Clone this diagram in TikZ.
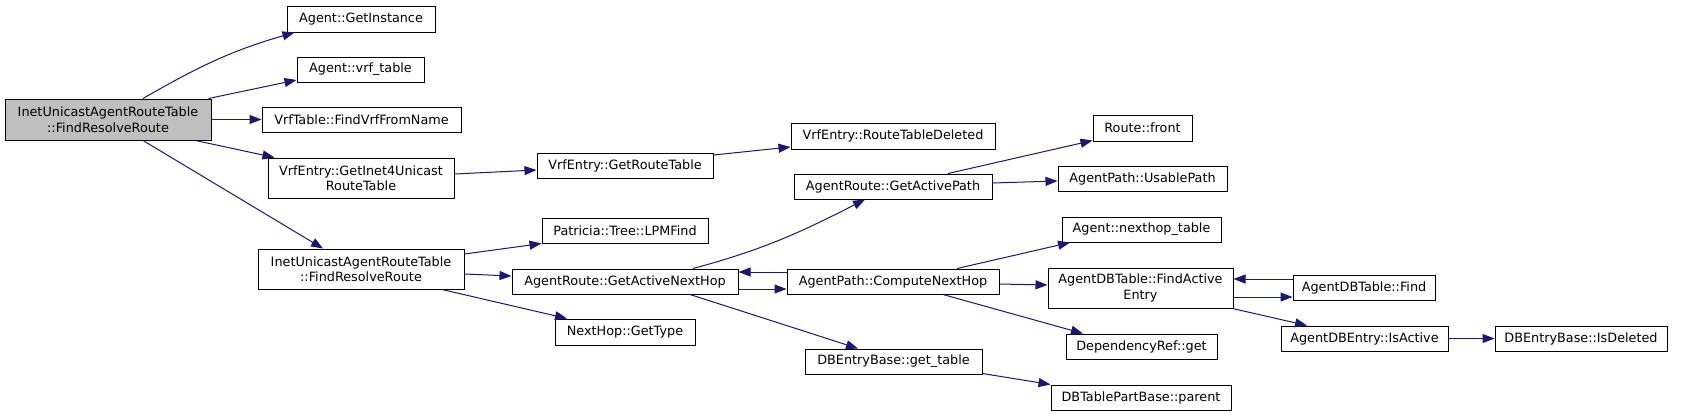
\documentclass[tikz,border=0pt]{standalone}
\usepackage{fontspec}
\setmainfont{DejaVu Sans}
\usetikzlibrary{arrows.meta}
\definecolor{edgec}{RGB}{25,25,112}
\definecolor{rootfill}{RGB}{191,191,191}
\begin{document}
\begin{tikzpicture}[x=1pt,y=-1pt,
  fn/.style={draw=black, line width=1pt, fill=white, inner sep=0pt, align=center,
    font=\fontsize{12.8}{15.5}\selectfont},
  sz/.style 2 args={minimum width=#1pt, minimum height=#2pt},
  rootfn/.style={fn, fill=rootfill},
  call/.style={draw=edgec, line width=1pt, -{Triangle[length=12pt,width=9pt]}}]
\fill[white] (0,0) rectangle (1691,416);
\useasboundingbox (0,0) rectangle (1691,416);

% nodes
\node[rootfn, sz={206}{41}] (root) at (108,119.5) {InetUnicastAgentRouteTable\\::FindResolveRoute};
\node[fn, sz={148}{26}] (GI) at (361,19) {Agent::GetInstance};
\node[fn, sz={127}{25}] (VT) at (360.5,69.5) {Agent::vrf\_table};
\node[fn, sz={199}{25}] (FVN) at (361.5,119.5) {VrfTable::FindVrfFromName};
\node[fn, sz={186}{40}] (GI4) at (361,178) {VrfEntry::GetInet4Unicast\\RouteTable};
\node[fn, sz={206}{40}] (R2) at (361,269) {InetUnicastAgentRouteTable\\::FindResolveRoute};
\node[fn, sz={176}{25}] (GRT) at (625,165.5) {VrfEntry::GetRouteTable};
\node[fn, sz={166}{25}] (LPM) at (625,230.5) {Patricia::Tree::LPMFind};
\node[fn, sz={226}{25}] (GANH) at (625,281.5) {AgentRoute::GetActiveNextHop};
\node[fn, sz={140}{26}] (NHT) at (625,332) {NextHop::GetType};
\node[fn, sz={204}{26}] (RTD) at (893,136) {VrfEntry::RouteTableDeleted};
\node[fn, sz={198}{25}] (GAP) at (893,186.5) {AgentRoute::GetActivePath};
\node[fn, sz={212}{25}] (CNH) at (893,281.5) {AgentPath::ComputeNextHop};
\node[fn, sz={177}{25}] (GT) at (893.5,361.5) {DBEntryBase::get\_table};
\node[fn, sz={99}{26}] (RF) at (1142.5,128) {Route::front};
\node[fn, sz={169}{25}] (UP) at (1142.5,178.5) {AgentPath::UsablePath};
\node[fn, sz={159}{25}] (NT) at (1141.5,229.5) {Agent::nexthop\_table};
\node[fn, sz={185}{40}] (FAE) at (1140.5,288) {AgentDBTable::FindActive\\Entry};
\node[fn, sz={151}{25}] (DRG) at (1141.5,346.5) {DependencyRef::get};
\node[fn, sz={180}{25}] (DPP) at (1141,397.5) {DBTablePartBase::parent};
\node[fn, sz={142}{25}] (ADF) at (1364,287.5) {AgentDBTable::Find};
\node[fn, sz={167}{25}] (IA) at (1364.5,338.5) {AgentDBEntry::IsActive};
\node[fn, sz={172}{25}] (ID) at (1581,338.5) {DBEntryBase::IsDeleted};

% edges
\draw[call] ([xshift=35pt]root.north) to[out=30,in=196] ([xshift=8pt]GI.south west);
\draw[call] ([xshift=-3pt]root.north east) -- ([yshift=-10.5pt]VT.west);
\draw[call] (root.east) -- (FVN.west);
\draw[call] ([xshift=-16pt]root.south east) -- ([xshift=7pt]GI4.north west);
\draw[call] ([xshift=35pt]root.south) -- ([xshift=-38pt]R2.north);
\draw[call] ([yshift=4pt]GI4.east) -- ([yshift=-4.5pt]GRT.west);
\draw[call] ([yshift=10.5pt]GRT.east) -- ([yshift=-11pt]RTD.west);
\draw[call] ([yshift=15pt]R2.east) -- (LPM.south west);
\draw[call] ([yshift=-5pt]R2.east) -- ([yshift=5.5pt]GANH.west);
\draw[call] ([xshift=81pt]R2.south) -- ([xshift=-58pt]NHT.north);
\draw[call] ([xshift=68pt]GANH.north) to[out=15,in=207] ([xshift=-28pt]GAP.south);
\draw[call] ([yshift=-7.5pt]GANH.east) -- ([yshift=-7.5pt]CNH.west);
\draw[call] ([yshift=9.5pt]CNH.west) -- ([yshift=9.5pt]GANH.east);
\draw[call] ([xshift=65pt]GANH.south) -- ([xshift=-35.5pt]GT.north);
\draw[call] ([xshift=55pt]GAP.north) -- ([yshift=1pt]RF.south west);
\draw[call] ([yshift=3.5pt]GAP.east) -- ([yshift=-2.5pt]UP.west);
\draw[call] ([xshift=64pt]CNH.north) -- ([xshift=-71.5pt]NT.south);
\draw[call] ([yshift=-2.5pt]CNH.east) -- ([yshift=3pt]FAE.west);
\draw[call] ([xshift=50pt]CNH.south) -- ([xshift=-58.5pt]DRG.north);
\draw[call] ([yshift=-9pt]FAE.east) -- ([yshift=-9.5pt]ADF.west);
\draw[call] ([yshift=8.5pt]ADF.west) -- ([yshift=9pt]FAE.east);
\draw[call] ([xshift=-1pt]FAE.south east) -- ([xshift=-57.5pt]IA.north);
\draw[call] (IA.east) -- (ID.west);
\draw[call] ([yshift=1pt]GT.south east) -- (DPP.north west);
\end{tikzpicture}
\end{document}
